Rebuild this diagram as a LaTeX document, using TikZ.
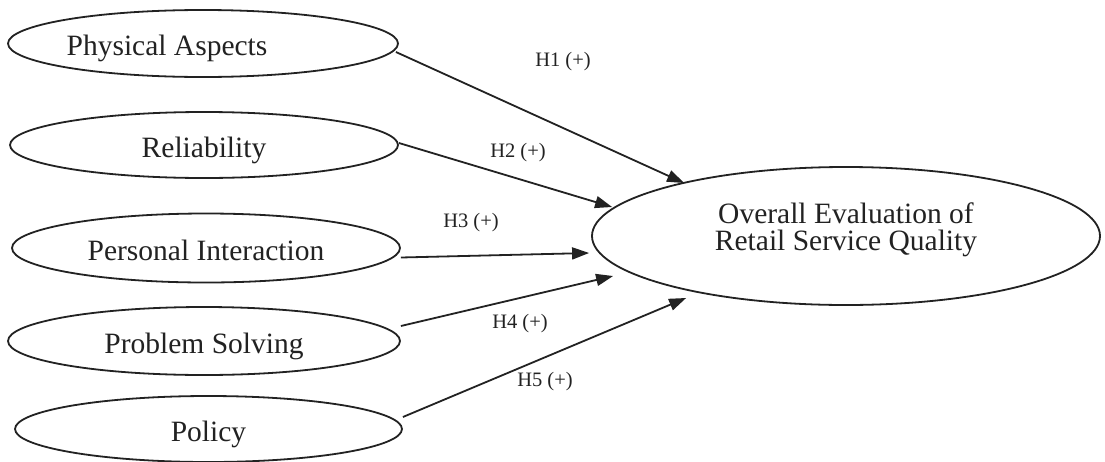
\documentclass[tikz,border=0pt]{standalone}
\usepackage{fontspec}
\setmainfont{Liberation Serif}
\usetikzlibrary{shapes.geometric,arrows.meta}
\definecolor{ink}{HTML}{222222}
\tikzset{
  oval/.style={ellipse, draw=ink, line width=1.8pt, inner sep=0pt,
    font=\fontsize{29.5}{30}\selectfont, text=ink, text height=24pt, text depth=0pt},
  ovaltext/.style={inner sep=0pt, font=\fontsize{29.5}{30}\selectfont, text=ink,
    text height=24pt, text depth=0pt},
  bigtext/.style={inner sep=0pt, align=center, font=\fontsize{29.5}{27}\selectfont, text=ink},
  hyp/.style={inner sep=0pt, font=\fontsize{20.5}{22}\selectfont, text=ink},
  link/.style={draw=ink, line width=1.8pt, -{Triangle[length=17pt,width=12pt]}}
}
\begin{document}
\begin{tikzpicture}[x=1pt,y=-1pt]
\useasboundingbox[fill=white] (0,0) rectangle (1105,461);

\node[oval, minimum width=390pt, minimum height=67pt,
  label={[ovaltext, xshift=-36pt]center:Physical Aspects}] (pa) at (203,43.5) {};
\node[oval, minimum width=388pt, minimum height=66pt] (rel) at (204,145) {Reliability};
\node[oval, minimum width=388pt, minimum height=69pt] (pi) at (206,248) {Personal Interaction};
\node[oval, minimum width=392pt, minimum height=68pt] (ps) at (204,341) {Problem Solving};
\node[oval, minimum width=387pt, minimum height=66pt] (pol) at (208.5,429) {Policy};

\node[oval, minimum width=508pt, minimum height=138pt,
  label={[bigtext, yshift=6pt]center:Overall Evaluation of\\Retail Service Quality}] (oe) at (846,236) {};

\draw[link] ([shift={(-3pt,-8.5pt)}]pa.east) -- ([shift={(93pt,53pt)}]oe.west);
\draw[link] ([shift={(0pt,2pt)}]rel.east) -- ([shift={(21pt,29pt)}]oe.west);
\draw[link] ([shift={(0pt,-9.5pt)}]pi.east) -- ([shift={(-2pt,-17pt)}]oe.west);
\draw[link] ([shift={(0pt,15pt)}]ps.east) -- ([shift={(22pt,-40pt)}]oe.west);
\draw[link] ([shift={(0pt,12pt)}]pol.east) -- ([shift={(95pt,-62pt)}]oe.west);

\node[hyp] (h1) at (563,62) {H1 (+)};
\node[hyp] (h2) at (518,153) {H2 (+)};
\node[hyp] (h3) at (471,223) {H3 (+)};
\node[hyp] (h4) at (520,324) {H4 (+)};
\node[hyp] (h5) at (545,382) {H5 (+)};
\end{tikzpicture}
\end{document}
